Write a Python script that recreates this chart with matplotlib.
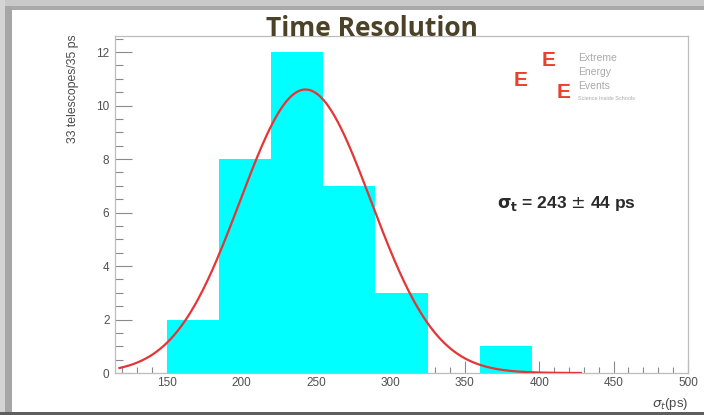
import numpy as np
import matplotlib
matplotlib.use("Agg")
import matplotlib.pyplot as plt
from matplotlib.patches import Rectangle
from matplotlib.ticker import MultipleLocator

# Histogram of per-telescope time resolution (35 ps bins)
bin_edges = [150, 185, 220, 255, 290, 325, 360, 395]
counts = [2, 8, 12, 7, 3, 0, 1]

# Gaussian fit parameters
fit_mean = 243
fit_sigma = 44
fit_amplitude = 10.6
fit_range = (118, 428)

title = "Time Resolution"
y_title = "33 telescopes/35 ps"
x_title = r"$\sigma_t$(ps)"
fit_label = r"$\mathbf{\sigma}_\mathbf{t}$ = 243 $\pm$ 44 ps"

W, H = 704, 415
fig = plt.figure(figsize=(W / 100, H / 100), dpi=100)
fig.patch.set_facecolor("white")


def px_rect(x0, y0, x1, y1, color):
    fig.add_artist(Rectangle((x0 / W, 1 - y1 / H), (x1 - x0) / W, (y1 - y0) / H,
                             transform=fig.transFigure, facecolor=color,
                             edgecolor="none", zorder=0))


# slide frame
px_rect(0, 0, W, 6, "#c9c9c9")
px_rect(0, 6, W, 10, "#a9a9a9")
px_rect(0, 0, 5, H, "#d4d4d4")
px_rect(5, 6, 12, H, "#a6a6a6")
px_rect(0, 412, W, H, "#5e5e5e")

ax = fig.add_axes([115 / W, 1 - 373 / H, (688 - 115) / W, (373 - 36) / H])
ax.set_xlim(115, 500)
ax.set_ylim(0, 12.6)

widths = np.diff(bin_edges)
ax.bar(bin_edges[:-1], counts, width=widths, align="edge",
       color="#00ffff", edgecolor="none", zorder=2)

xs = np.linspace(fit_range[0], fit_range[1], 400)
ys = fit_amplitude * np.exp(-0.5 * ((xs - fit_mean) / fit_sigma) ** 2)
ax.plot(xs, ys, color="#e53535", lw=1.6, zorder=3)

for s in ax.spines.values():
    s.set_color("#bdbdbd")
    s.set_linewidth(0.9)

ax.xaxis.set_major_locator(MultipleLocator(50))
ax.xaxis.set_minor_locator(MultipleLocator(10))
ax.yaxis.set_major_locator(MultipleLocator(2))
ax.yaxis.set_minor_locator(MultipleLocator(0.5))
ax.tick_params(axis="both", which="both", direction="in", colors="#8a8a8a",
               labelcolor="#505050", labelsize=8.5, width=0.8)
ax.tick_params(axis="y", which="major", length=12, pad=4)
ax.tick_params(axis="y", which="minor", length=6)
ax.tick_params(axis="x", which="major", length=9, pad=3)
ax.tick_params(axis="x", which="minor", length=4.5)
ax.set_xticks([150, 200, 250, 300, 350, 400, 450, 500])
for lab in ax.get_xticklabels() + ax.get_yticklabels():
    lab.set_family("Liberation Sans")

fig.text(73 / W, 1 - 34 / H, y_title, rotation=90, ha="center", va="top",
         fontsize=8.8, color="#4a4a4a", family="Liberation Sans")
fig.text(688 / W, 1 - 404 / H, x_title, ha="right", va="center",
         fontsize=9.5, color="#4a4a4a", family="Liberation Sans")

fig.text(372 / W, 1 - 28 / H, title, ha="center", va="center",
         fontsize=19, fontweight="bold", color="#4b4228", family="Open Sans",
         zorder=5)

fig.text(497 / W, 1 - 203 / H, fit_label, ha="left", va="center",
         fontsize=12.5, fontweight="bold", color="#2a2a2a",
         family="Liberation Sans")

# experiment logo
for (x, y, c) in [(549, 60, "#e8402a"), (521, 80, "#e8402a"), (564, 93, "#e8402a")]:
    fig.text(x / W, 1 - y / H, "E", ha="center", va="center", fontsize=15,
             fontweight="bold", color=c, family="Liberation Sans", zorder=4)
for (y, s, fs) in [(58, "Extreme", 7.5), (72, "Energy", 7.5), (86, "Events", 7.5),
                   (99, "Science Inside Schools", 4)]:
    fig.text(578 / W, 1 - y / H, s, ha="left", va="center", fontsize=fs,
             color="#aaaaaa", family="Liberation Sans")

fig.savefig("out.png", dpi=100)
